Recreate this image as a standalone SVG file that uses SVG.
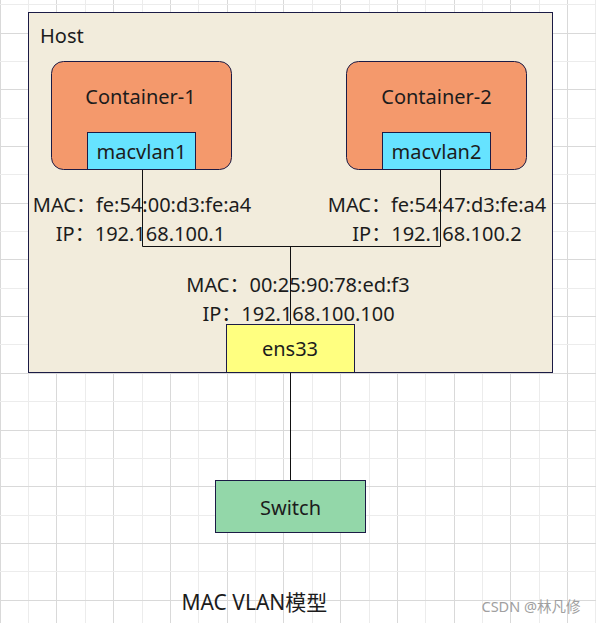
<svg xmlns="http://www.w3.org/2000/svg" width="596" height="623" viewBox="0 0 596 623">
<style>
text{font-family:"Noto Sans","Noto Sans CJK SC",sans-serif;font-size:20px;fill:#1c1c1c}
.c{text-anchor:middle}
.box{stroke:#1b1b45;stroke-width:1}
.gl{stroke:#ececec;stroke-width:1}
.gd{stroke:#d9d9d9;stroke-width:1}
.wire{stroke:#111;stroke-width:1;fill:none}
</style>
<rect width="596" height="623" fill="#fff"/>
<g id="grid">
<path class="gl" d="M28.5 0V623M85.5 0V623M142.5 0V623M198.5 0V623M255.5 0V623M312.5 0V623M369.5 0V623M425.5 0V623M482.5 0V623M539.5 0V623M595.5 0V623"/>
<path class="gd" d="M0.5 0V623M56.5 0V623M113.5 0V623M170.5 0V623M227.5 0V623M283.5 0V623M340.5 0V623M397.5 0V623M454.5 0V623M510.5 0V623M567.5 0V623"/>
<path class="gl" d="M0 4.5H596M0 61.5H596M0 118.5H596M0 174.5H596M0 231.5H596M0 288.5H596M0 344.5H596M0 401.5H596M0 458.5H596M0 515.5H596M0 571.5H596"/>
<path class="gd" d="M0 33.5H596M0 89.5H596M0 146.5H596M0 203.5H596M0 259.5H596M0 316.5H596M0 373.5H596M0 430.5H596M0 486.5H596M0 543.5H596M0 600.5H596"/>
</g>
<g id="host">
<rect class="box" x="28.5" y="12.5" width="524" height="360" fill="#f2ecdc"/>
<text x="40" y="43">Host</text>
</g>
<g id="connectors">
<path class="wire" d="M142.5 169.5V246.5H440.5V169.5"/>
<path class="wire" d="M290.5 246.5V324.5"/>
<path class="wire" d="M290.5 372.5V480.5"/>
</g>
<g id="container1">
<rect class="box" x="51.5" y="61.5" width="180" height="108" rx="12" fill="#f4996c"/>
<text class="c" x="140.5" y="104">Container-1</text>
</g>
<g id="macvlan1">
<rect class="box" x="87.5" y="132.5" width="108" height="37" fill="#66e3ff"/>
<text class="c" x="141.5" y="158.5">macvlan1</text>
</g>
<g id="container2">
<rect class="box" x="346.5" y="61.5" width="180" height="108" rx="12" fill="#f4996c"/>
<text class="c" x="436.5" y="104">Container-2</text>
</g>
<g id="macvlan2">
<rect class="box" x="382.5" y="132.5" width="108" height="37" fill="#66e3ff"/>
<text class="c" x="436.5" y="158.5">macvlan2</text>
</g>
<g id="labels">
<text class="c" x="142" y="212">MAC：fe:54:00:d3:fe:a4</text>
<text class="c" x="140.5" y="240.5">IP：192.168.100.1</text>
<text class="c" x="437" y="212">MAC：fe:54:47:d3:fe:a4</text>
<text class="c" x="437" y="240.5">IP：192.168.100.2</text>
<text class="c" x="298" y="291.5">MAC：00:25:90:78:ed:f3</text>
<text class="c" x="298.5" y="321">IP：192.168.100.100</text>
</g>
<g id="ens33">
<rect class="box" x="226.5" y="324.5" width="128" height="48" fill="#ffff80"/>
<text class="c" x="290" y="356">ens33</text>
</g>
<g id="switch">
<rect class="box" x="215.5" y="480.5" width="150" height="52" fill="#93d7a9"/>
<text class="c" x="290.5" y="515">Switch</text>
</g>
<text x="181.5" y="610" style="font-size:21px">MAC VLAN模型</text>
<text x="481.5" y="611.5" style="font-size:14.5px;fill:#a0a0a0">CSDN @林凡修</text>
</svg>
